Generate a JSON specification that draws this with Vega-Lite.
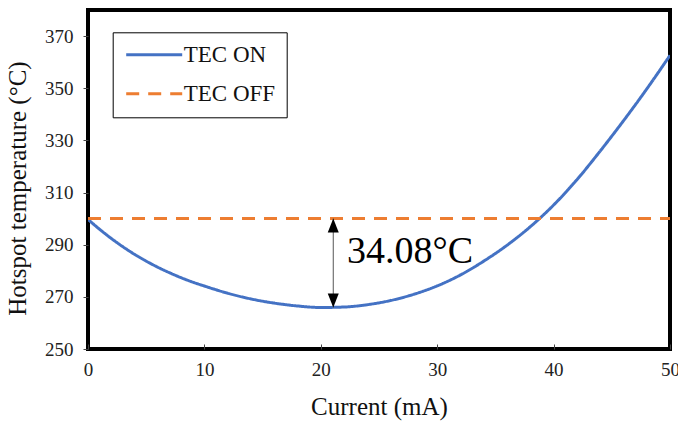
{
  "$schema": "https://vega.github.io/schema/vega-lite/v6.json",
  "width": 582,
  "height": 339,
  "autosize": {"type": "none"},
  "padding": {"left": 88, "top": 10, "right": 8, "bottom": 74},
  "background": "white",
  "config": {
    "view": {"stroke": "black", "strokeWidth": 4},
    "font": "Liberation Serif",
    "axis": {
      "grid": false,
      "domain": false,
      "labelFont": "Liberation Serif",
      "labelFontSize": 19,
      "labelColor": "#222",
      "labelFlush": false,
      "titleFont": "Liberation Serif",
      "titleFontSize": 25,
      "titleFontWeight": "normal",
      "titleColor": "#111",
      "tickColor": "#444",
      "tickWidth": 1
    },
    "legend": {
      "title": null,
      "orient": "none",
      "legendX": 24.7,
      "legendY": 22.3,
      "strokeColor": "black",
      "fillColor": "white",
      "padding": 11,
      "labelFont": "Liberation Serif",
      "labelFontSize": 23,
      "labelColor": "#111",
      "symbolType": "M-4,0H4",
      "symbolSize": 196,
      "symbolStrokeWidth": 3,
      "symbolOffset": 19,
      "labelOffset": 18,
      "rowPadding": 15
    }
  },
  "datasets": {
    "series": [
      {"current": 0, "temp": 299.7, "series": "TEC ON"},
      {"current": 1, "temp": 295.9, "series": "TEC ON"},
      {"current": 2, "temp": 292.4, "series": "TEC ON"},
      {"current": 3, "temp": 289.2, "series": "TEC ON"},
      {"current": 4, "temp": 286.3, "series": "TEC ON"},
      {"current": 5, "temp": 283.7, "series": "TEC ON"},
      {"current": 6, "temp": 281.35, "series": "TEC ON"},
      {"current": 7, "temp": 279.25, "series": "TEC ON"},
      {"current": 8, "temp": 277.35, "series": "TEC ON"},
      {"current": 9, "temp": 275.65, "series": "TEC ON"},
      {"current": 10, "temp": 274.15, "series": "TEC ON"},
      {"current": 12, "temp": 271.4, "series": "TEC ON"},
      {"current": 14, "temp": 269.2, "series": "TEC ON"},
      {"current": 16, "temp": 267.6, "series": "TEC ON"},
      {"current": 18, "temp": 266.5, "series": "TEC ON"},
      {"current": 20, "temp": 265.92, "series": "TEC ON"},
      {"current": 22, "temp": 266.1, "series": "TEC ON"},
      {"current": 24, "temp": 267.0, "series": "TEC ON"},
      {"current": 26, "temp": 268.6, "series": "TEC ON"},
      {"current": 28, "temp": 271.0, "series": "TEC ON"},
      {"current": 30, "temp": 274.2, "series": "TEC ON"},
      {"current": 32, "temp": 278.4, "series": "TEC ON"},
      {"current": 34, "temp": 283.7, "series": "TEC ON"},
      {"current": 36, "temp": 289.8, "series": "TEC ON"},
      {"current": 38, "temp": 296.9, "series": "TEC ON"},
      {"current": 40, "temp": 305.2, "series": "TEC ON"},
      {"current": 42, "temp": 314.9, "series": "TEC ON"},
      {"current": 44, "temp": 325.9, "series": "TEC ON"},
      {"current": 46, "temp": 337.5, "series": "TEC ON"},
      {"current": 48, "temp": 349.7, "series": "TEC ON"},
      {"current": 50, "temp": 362.6, "series": "TEC ON"},
      {"current": 0, "temp": 300, "series": "TEC OFF"},
      {"current": 50, "temp": 300, "series": "TEC OFF"}
    ],
    "arrow": [
      {"current": 21.07, "top": 300, "bottom": 265.92}
    ],
    "label": [
      {"current": 22.25, "temp": 283, "text": "34.08°C"}
    ]
  },
  "layer": [
    {
      "data": {"name": "series"},
      "mark": {"type": "line", "strokeWidth": 3, "clip": true, "interpolate": "monotone"},
      "encoding": {
        "x": {
          "field": "current", "type": "quantitative",
          "scale": {"domain": [0, 50], "nice": false},
          "axis": {"title": "Current (mA)", "values": [0, 10, 20, 30, 40, 50], "tickSize": -5, "labelPadding": 16, "titlePadding": 15}
        },
        "y": {
          "field": "temp", "type": "quantitative",
          "scale": {"domain": [250, 380], "nice": false, "zero": false},
          "axis": {"title": "Hotspot temperature (°C)", "values": [250, 270, 290, 310, 330, 350, 370], "tickSize": 5, "labelPadding": 10, "titlePadding": 14, "titleY": 178}
        },
        "color": {
          "field": "series", "type": "nominal",
          "scale": {"domain": ["TEC ON", "TEC OFF"], "range": ["#4472C4", "#ED7D31"]}
        },
        "strokeDash": {
          "field": "series", "type": "nominal",
          "scale": {"domain": ["TEC ON", "TEC OFF"], "range": [[1, 0], [13, 9]]}
        }
      }
    },
    {
      "data": {"name": "arrow"},
      "mark": {"type": "rule", "color": "#555", "strokeWidth": 1},
      "encoding": {
        "x": {"field": "current", "type": "quantitative"},
        "y": {"field": "top", "type": "quantitative"},
        "y2": {"field": "bottom"}
      }
    },
    {
      "data": {"name": "arrow"},
      "mark": {"type": "point", "shape": "M0,0L-0.55,1.4L0.55,1.4Z", "size": 400, "filled": true, "color": "black", "opacity": 1},
      "encoding": {
        "x": {"field": "current", "type": "quantitative"},
        "y": {"field": "top", "type": "quantitative"}
      }
    },
    {
      "data": {"name": "arrow"},
      "mark": {"type": "point", "shape": "M0,0L-0.55,-1.4L0.55,-1.4Z", "size": 400, "filled": true, "color": "black", "opacity": 1},
      "encoding": {
        "x": {"field": "current", "type": "quantitative"},
        "y": {"field": "bottom", "type": "quantitative"}
      }
    },
    {
      "data": {"name": "label"},
      "mark": {"type": "text", "font": "Liberation Serif", "fontSize": 38, "align": "left", "baseline": "alphabetic", "color": "black"},
      "encoding": {
        "x": {"field": "current", "type": "quantitative"},
        "y": {"field": "temp", "type": "quantitative"},
        "text": {"field": "text"}
      }
    }
  ]
}
